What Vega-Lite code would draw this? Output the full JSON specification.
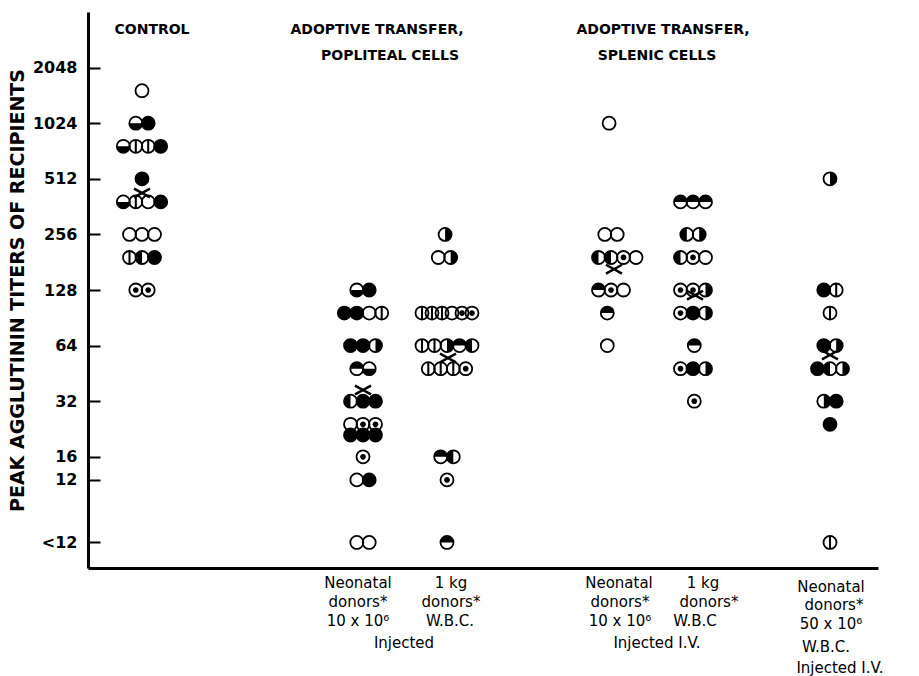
{
  "$schema": "https://vega.github.io/schema/vega-lite/v6.json",
  "width": 790,
  "height": 556,
  "autosize": {"type": "none"},
  "padding": {"left": 88, "top": 12, "right": 41, "bottom": 108},
  "background": "white",
  "config": {"view": {"stroke": null}, "font": "DejaVu Sans"},
  "datasets": {
    "points": [
      {"group": "Control", "x": 54, "titer": 1536, "type": "open"},
      {"group": "Control", "x": 47.8, "titer": 1024, "type": "bottom"},
      {"group": "Control", "x": 60.2, "titer": 1024, "type": "filled"},
      {"group": "Control", "x": 35.3, "titer": 768, "type": "bottom"},
      {"group": "Control", "x": 47.8, "titer": 768, "type": "bar"},
      {"group": "Control", "x": 60.2, "titer": 768, "type": "bar"},
      {"group": "Control", "x": 72.7, "titer": 768, "type": "filled"},
      {"group": "Control", "x": 54, "titer": 512, "type": "filled"},
      {"group": "Control", "x": 35.3, "titer": 384, "type": "bottom"},
      {"group": "Control", "x": 47.8, "titer": 384, "type": "bar"},
      {"group": "Control", "x": 60.2, "titer": 384, "type": "open"},
      {"group": "Control", "x": 72.7, "titer": 384, "type": "filled"},
      {"group": "Control", "x": 41.5, "titer": 256, "type": "open"},
      {"group": "Control", "x": 54, "titer": 256, "type": "open"},
      {"group": "Control", "x": 66.5, "titer": 256, "type": "open"},
      {"group": "Control", "x": 41.5, "titer": 192, "type": "bar"},
      {"group": "Control", "x": 54, "titer": 192, "type": "left"},
      {"group": "Control", "x": 66.5, "titer": 192, "type": "filled"},
      {"group": "Control", "x": 47.8, "titer": 128, "type": "dot"},
      {"group": "Control", "x": 60.2, "titer": 128, "type": "dot"},

      {"group": "Popliteal neonatal", "x": 268.8, "titer": 128, "type": "bottom"},
      {"group": "Popliteal neonatal", "x": 281.2, "titer": 128, "type": "filled"},
      {"group": "Popliteal neonatal", "x": 256.3, "titer": 96, "type": "filled"},
      {"group": "Popliteal neonatal", "x": 268.8, "titer": 96, "type": "filled"},
      {"group": "Popliteal neonatal", "x": 281.2, "titer": 96, "type": "open"},
      {"group": "Popliteal neonatal", "x": 293.7, "titer": 96, "type": "bar"},
      {"group": "Popliteal neonatal", "x": 262.5, "titer": 64, "type": "filled"},
      {"group": "Popliteal neonatal", "x": 275, "titer": 64, "type": "filled"},
      {"group": "Popliteal neonatal", "x": 287.5, "titer": 64, "type": "right"},
      {"group": "Popliteal neonatal", "x": 268.8, "titer": 48, "type": "top"},
      {"group": "Popliteal neonatal", "x": 281.2, "titer": 48, "type": "bottom"},
      {"group": "Popliteal neonatal", "x": 262.5, "titer": 32, "type": "left"},
      {"group": "Popliteal neonatal", "x": 275, "titer": 32, "type": "filled"},
      {"group": "Popliteal neonatal", "x": 287.5, "titer": 32, "type": "filled"},
      {"group": "Popliteal neonatal", "x": 262.5, "titer": 24, "type": "open"},
      {"group": "Popliteal neonatal", "x": 275, "titer": 24, "type": "dot"},
      {"group": "Popliteal neonatal", "x": 287.5, "titer": 24, "type": "dot"},
      {"group": "Popliteal neonatal", "x": 262.5, "titer": 21, "type": "filled"},
      {"group": "Popliteal neonatal", "x": 275, "titer": 21, "type": "filled"},
      {"group": "Popliteal neonatal", "x": 287.5, "titer": 21, "type": "filled"},
      {"group": "Popliteal neonatal", "x": 275, "titer": 16, "type": "dot"},
      {"group": "Popliteal neonatal", "x": 268.8, "titer": 12, "type": "open"},
      {"group": "Popliteal neonatal", "x": 281.2, "titer": 12, "type": "filled"},
      {"group": "Popliteal neonatal", "x": 268.8, "titer": 5.5, "type": "open"},
      {"group": "Popliteal neonatal", "x": 281.2, "titer": 5.5, "type": "open"},

      {"group": "Popliteal 1 kg", "x": 357.1, "titer": 256, "type": "right"},
      {"group": "Popliteal 1 kg", "x": 350.3, "titer": 192, "type": "open"},
      {"group": "Popliteal 1 kg", "x": 362.7, "titer": 192, "type": "right"},
      {"group": "Popliteal 1 kg", "x": 334, "titer": 96, "type": "bar"},
      {"group": "Popliteal 1 kg", "x": 344, "titer": 96, "type": "bar"},
      {"group": "Popliteal 1 kg", "x": 354, "titer": 96, "type": "bar"},
      {"group": "Popliteal 1 kg", "x": 364, "titer": 96, "type": "open"},
      {"group": "Popliteal 1 kg", "x": 374, "titer": 96, "type": "dot"},
      {"group": "Popliteal 1 kg", "x": 384, "titer": 96, "type": "dot"},
      {"group": "Popliteal 1 kg", "x": 334, "titer": 64, "type": "bar"},
      {"group": "Popliteal 1 kg", "x": 346.5, "titer": 64, "type": "bar"},
      {"group": "Popliteal 1 kg", "x": 359, "titer": 64, "type": "right"},
      {"group": "Popliteal 1 kg", "x": 371.5, "titer": 64, "type": "top"},
      {"group": "Popliteal 1 kg", "x": 384, "titer": 64, "type": "left"},
      {"group": "Popliteal 1 kg", "x": 340.3, "titer": 48, "type": "bar"},
      {"group": "Popliteal 1 kg", "x": 352.7, "titer": 48, "type": "bar"},
      {"group": "Popliteal 1 kg", "x": 365.3, "titer": 48, "type": "bar"},
      {"group": "Popliteal 1 kg", "x": 377.7, "titer": 48, "type": "dot"},
      {"group": "Popliteal 1 kg", "x": 352.7, "titer": 16, "type": "top"},
      {"group": "Popliteal 1 kg", "x": 365.3, "titer": 16, "type": "left"},
      {"group": "Popliteal 1 kg", "x": 359, "titer": 12, "type": "dot"},
      {"group": "Popliteal 1 kg", "x": 359, "titer": 5.5, "type": "top"},

      {"group": "Splenic neonatal", "x": 521.1, "titer": 1024, "type": "open"},
      {"group": "Splenic neonatal", "x": 516.8, "titer": 256, "type": "open"},
      {"group": "Splenic neonatal", "x": 529.2, "titer": 256, "type": "open"},
      {"group": "Splenic neonatal", "x": 510.5, "titer": 192, "type": "left"},
      {"group": "Splenic neonatal", "x": 523, "titer": 192, "type": "left"},
      {"group": "Splenic neonatal", "x": 535.5, "titer": 192, "type": "dot"},
      {"group": "Splenic neonatal", "x": 548, "titer": 192, "type": "open"},
      {"group": "Splenic neonatal", "x": 510.5, "titer": 128, "type": "top"},
      {"group": "Splenic neonatal", "x": 523, "titer": 128, "type": "dot"},
      {"group": "Splenic neonatal", "x": 535.5, "titer": 128, "type": "open"},
      {"group": "Splenic neonatal", "x": 519.3, "titer": 96, "type": "top"},
      {"group": "Splenic neonatal", "x": 519.3, "titer": 64, "type": "open"},

      {"group": "Splenic 1 kg", "x": 592.5, "titer": 384, "type": "top"},
      {"group": "Splenic 1 kg", "x": 605, "titer": 384, "type": "top"},
      {"group": "Splenic 1 kg", "x": 617.5, "titer": 384, "type": "top"},
      {"group": "Splenic 1 kg", "x": 598.8, "titer": 256, "type": "left"},
      {"group": "Splenic 1 kg", "x": 611.2, "titer": 256, "type": "right"},
      {"group": "Splenic 1 kg", "x": 592.5, "titer": 192, "type": "left"},
      {"group": "Splenic 1 kg", "x": 605, "titer": 192, "type": "dot"},
      {"group": "Splenic 1 kg", "x": 617.5, "titer": 192, "type": "open"},
      {"group": "Splenic 1 kg", "x": 592.5, "titer": 128, "type": "dot"},
      {"group": "Splenic 1 kg", "x": 605, "titer": 128, "type": "dot"},
      {"group": "Splenic 1 kg", "x": 617.5, "titer": 128, "type": "right"},
      {"group": "Splenic 1 kg", "x": 592.5, "titer": 96, "type": "dot"},
      {"group": "Splenic 1 kg", "x": 605, "titer": 96, "type": "filled"},
      {"group": "Splenic 1 kg", "x": 617.5, "titer": 96, "type": "right"},
      {"group": "Splenic 1 kg", "x": 606.3, "titer": 64, "type": "top"},
      {"group": "Splenic 1 kg", "x": 592.5, "titer": 48, "type": "dot"},
      {"group": "Splenic 1 kg", "x": 605, "titer": 48, "type": "filled"},
      {"group": "Splenic 1 kg", "x": 617.5, "titer": 48, "type": "right"},
      {"group": "Splenic 1 kg", "x": 606.3, "titer": 32, "type": "dot"},

      {"group": "Splenic 50x", "x": 742, "titer": 512, "type": "right"},
      {"group": "Splenic 50x", "x": 735.8, "titer": 128, "type": "filled"},
      {"group": "Splenic 50x", "x": 748.2, "titer": 128, "type": "bar"},
      {"group": "Splenic 50x", "x": 742, "titer": 96, "type": "bar"},
      {"group": "Splenic 50x", "x": 735.8, "titer": 64, "type": "filled"},
      {"group": "Splenic 50x", "x": 748.2, "titer": 64, "type": "right"},
      {"group": "Splenic 50x", "x": 729.5, "titer": 48, "type": "filled"},
      {"group": "Splenic 50x", "x": 742, "titer": 48, "type": "left"},
      {"group": "Splenic 50x", "x": 754.5, "titer": 48, "type": "right"},
      {"group": "Splenic 50x", "x": 735.8, "titer": 32, "type": "right"},
      {"group": "Splenic 50x", "x": 748.2, "titer": 32, "type": "filled"},
      {"group": "Splenic 50x", "x": 742, "titer": 24, "type": "filled"},
      {"group": "Splenic 50x", "x": 742, "titer": 5.5, "type": "bar"}
    ],
    "medians": [
      {"group": "Control", "x": 54, "titer": 429},
      {"group": "Popliteal neonatal", "x": 275, "titer": 36.8},
      {"group": "Popliteal 1 kg", "x": 360, "titer": 54.8},
      {"group": "Splenic neonatal", "x": 526, "titer": 166},
      {"group": "Splenic 1 kg", "x": 607, "titer": 120},
      {"group": "Splenic 50x", "x": 742, "titer": 57}
    ],
    "headers": [
      {"text": "CONTROL", "x": 64, "titer": 3273},
      {"text": "ADOPTIVE TRANSFER,", "x": 289, "titer": 3273},
      {"text": "POPLITEAL CELLS", "x": 302, "titer": 2367},
      {"text": "ADOPTIVE TRANSFER,", "x": 575, "titer": 3273},
      {"text": "SPLENIC CELLS", "x": 569, "titer": 2367}
    ],
    "notes": [
      {"text": "Neonatal", "x": 270, "titer": 3.32},
      {"text": "donors*", "x": 270, "titer": 2.62},
      {"text": "10 x 10⁶", "x": 270, "titer": 2.07},
      {"text": "1 kg", "x": 363, "titer": 3.32},
      {"text": "donors*", "x": 363, "titer": 2.62},
      {"text": "W.B.C.", "x": 362, "titer": 2.07},
      {"text": "Injected", "x": 316, "titer": 1.57},
      {"text": "Neonatal", "x": 531, "titer": 3.32},
      {"text": "donors*", "x": 532, "titer": 2.62},
      {"text": "10 x 10⁶", "x": 532, "titer": 2.07},
      {"text": "1 kg", "x": 615, "titer": 3.32},
      {"text": "donors*", "x": 621, "titer": 2.62},
      {"text": "W.B.C", "x": 607, "titer": 2.07},
      {"text": "Injected I.V.", "x": 569, "titer": 1.57},
      {"text": "Neonatal", "x": 743, "titer": 3.16},
      {"text": "donors*", "x": 746, "titer": 2.52},
      {"text": "50 x 10⁶", "x": 743, "titer": 1.99},
      {"text": "W.B.C.", "x": 738, "titer": 1.49},
      {"text": "Injected I.V.", "x": 752, "titer": 1.15}
    ]
  },
  "layer": [
    {
      "data": {"name": "points"},
      "mark": {"type": "point", "shape": "circle", "filled": true, "fill": "white", "strokeWidth": 0, "opacity": 1, "size": 169},
      "encoding": {
        "x": {"field": "x", "type": "quantitative", "scale": {"domain": [0, 790], "nice": false, "zero": false},
          "axis": {"orient": "bottom", "labels": false, "ticks": false, "title": null, "grid": false, "domainColor": "black", "domainWidth": 3}},
        "y": {"field": "titer", "type": "quantitative",
          "scale": {"type": "log", "base": 2, "domain": [4, 4096], "nice": false},
          "axis": {"values": [5.5, 12, 16, 32, 64, 128, 256, 512, 1024, 2048], "format": "d",
            "labelExpr": "datum.value < 8 ? '<12' : datum.label",
            "title": "PEAK AGGLUTININ TITERS OF RECIPIENTS", "grid": false,
            "domainColor": "black", "domainWidth": 3, "tickColor": "black", "tickWidth": 2,
            "tickSize": -12, "labelPadding": 23, "labelFont": "DejaVu Sans", "labelFontWeight": "bold",
            "labelFontSize": 16, "labelColor": "black", "titleFont": "DejaVu Sans", "titleFontSize": 19,
            "titleFontWeight": "bold", "titleColor": "black", "titlePadding": 5}}
      }
    },
    {
      "data": {"name": "points"},
      "transform": [{"filter": "datum.type != 'open'"}],
      "mark": {"type": "point", "filled": true, "fill": "black", "strokeWidth": 0, "opacity": 1, "size": 169},
      "encoding": {
        "x": {"field": "x", "type": "quantitative"},
        "y": {"field": "titer", "type": "quantitative"},
        "shape": {"field": "type", "type": "nominal", "legend": null,
          "scale": {"domain": ["filled", "top", "bottom", "left", "right", "bar", "dot"],
            "range": ["circle",
              "M -1 0 A 1 1 0 0 1 1 0 Z",
              "M -1 0 A 1 1 0 0 0 1 0 Z",
              "M 0 -1 A 1 1 0 0 0 0 1 Z",
              "M 0 -1 A 1 1 0 0 1 0 1 Z",
              "M -0.16 -1 L 0.16 -1 L 0.16 1 L -0.16 1 Z",
              "M 0.44 0 A 0.44 0.44 0 1 1 -0.44 0 A 0.44 0.44 0 1 1 0.44 0 Z"]}}
      }
    },
    {
      "data": {"name": "points"},
      "mark": {"type": "point", "shape": "circle", "filled": false, "stroke": "black", "strokeWidth": 1.8, "opacity": 1, "size": 169},
      "encoding": {
        "x": {"field": "x", "type": "quantitative"},
        "y": {"field": "titer", "type": "quantitative"}
      }
    },
    {
      "data": {"name": "medians"},
      "mark": {"type": "point", "shape": "M -1 -0.55 L 1 0.55 M -1 0.55 L 1 -0.55", "filled": false, "stroke": "black", "strokeWidth": 2.5, "opacity": 1, "size": 256},
      "encoding": {
        "x": {"field": "x", "type": "quantitative"},
        "y": {"field": "titer", "type": "quantitative"}
      }
    },
    {
      "data": {"name": "headers"},
      "mark": {"type": "text", "font": "DejaVu Sans", "fontWeight": "bold", "fontSize": 14, "color": "black", "align": "center", "baseline": "middle"},
      "encoding": {
        "x": {"field": "x", "type": "quantitative"},
        "y": {"field": "titer", "type": "quantitative"},
        "text": {"field": "text"}
      }
    },
    {
      "data": {"name": "notes"},
      "mark": {"type": "text", "font": "DejaVu Sans", "fontSize": 15, "color": "black", "align": "center", "baseline": "middle"},
      "encoding": {
        "x": {"field": "x", "type": "quantitative"},
        "y": {"field": "titer", "type": "quantitative"},
        "text": {"field": "text"}
      }
    }
  ]
}
